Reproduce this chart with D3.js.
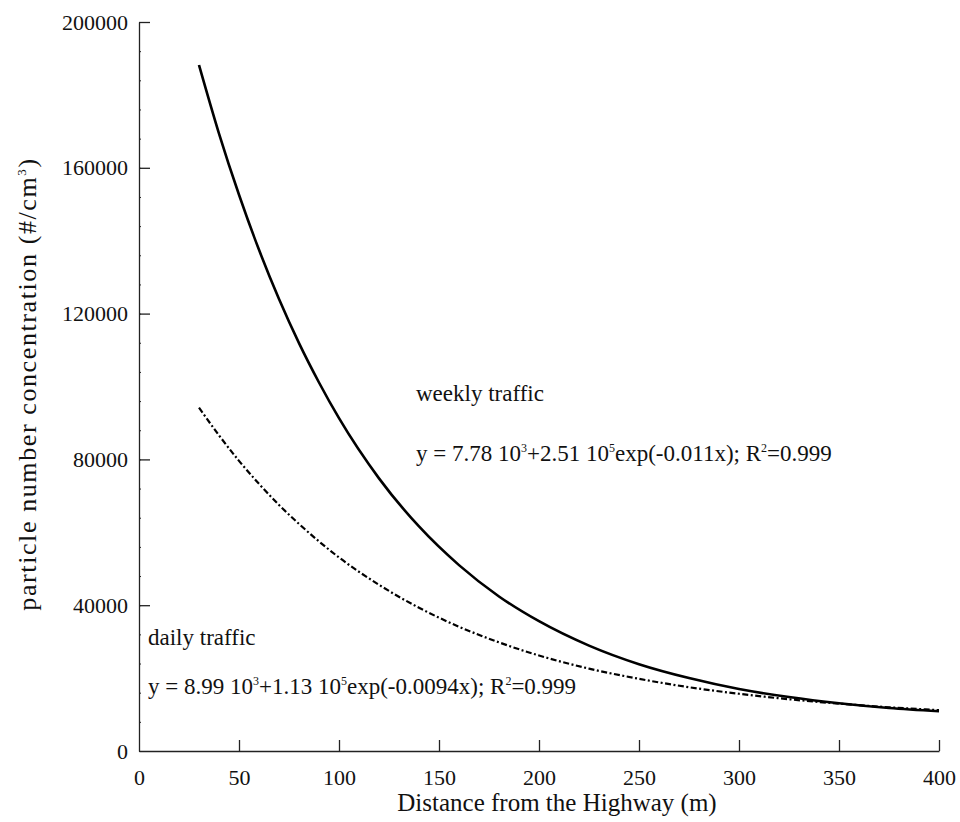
<!DOCTYPE html>
<html>
<head>
<meta charset="utf-8">
<script src="https://cdn.jsdelivr.net/npm/d3@7"></script>
<style>
  body { margin: 0; background: #fff; }
  text { font-family: "Liberation Serif", "DejaVu Serif", serif; fill: #111; }
</style>
</head>
<body>
<svg id="chart" width="960" height="822"></svg>
<script>
// distances (m)
const distance = [30, 40, 50, 60, 70, 80, 90, 100, 120, 140, 160, 180, 200, 225, 250, 275, 300, 325, 350, 375, 400];
// weekly traffic curve (#/cm3)
const weekly = [188200, 169400, 152600, 137500, 124000, 111900, 101100, 91300, 74800, 61600, 51000, 42400, 35600, 28900, 23800, 20000, 17000, 14800, 13100, 11800, 10900];
// daily traffic curve (#/cm3)
const daily = [94200, 86600, 79600, 73300, 67500, 62300, 57500, 53100, 45600, 39300, 34100, 29800, 26200, 22600, 19800, 17500, 15700, 14200, 13000, 12000, 11200];

const xTicks = [0, 50, 100, 150, 200, 250, 300, 350, 400];
const yTicks = [0, 40000, 80000, 120000, 160000, 200000];
const yMinorTicks = d3.range(0, 200001, 8000);

const svg = d3.select("#chart");
const margin = {top: 22, right: 21, bottom: 71, left: 139};
const width = +svg.attr("width") - margin.left - margin.right;
const height = +svg.attr("height") - margin.top - margin.bottom;

const g = svg.append("g").attr("transform", `translate(${margin.left},${margin.top})`);

const x = d3.scaleLinear().domain([0, 400]).range([0, width]);
const y = d3.scaleLinear().domain([0, 200000]).range([height, 0]);

// x axis, ticks pointing inward
const xAxis = g.append("g")
    .attr("transform", `translate(0,${height})`)
    .call(d3.axisBottom(x).tickValues(xTicks).tickSizeInner(-11).tickSizeOuter(0).tickPadding(18));
xAxis.select(".domain").attr("stroke", "#222").attr("stroke-width", 1.3);
xAxis.selectAll(".tick line").attr("stroke", "#222").attr("stroke-width", 1.3);
xAxis.selectAll(".tick").filter(d => d === 0).select("line").remove();
xAxis.selectAll(".tick text").style("font-size", "22px").attr("fill", "#111");

// y axis minor ticks
g.append("g")
    .call(d3.axisLeft(y).tickValues(yMinorTicks).tickSizeInner(-2).tickSizeOuter(0).tickFormat(""))
    .call(a => a.select(".domain").remove())
    .selectAll(".tick line").attr("stroke", "#222");

// y axis major
const yAxis = g.append("g")
    .call(d3.axisLeft(y).tickValues(yTicks).tickSizeInner(-11).tickSizeOuter(0).tickPadding(11).tickFormat(d3.format("d")));
yAxis.select(".domain").attr("stroke", "#222").attr("stroke-width", 1.3);
yAxis.selectAll(".tick line").attr("stroke", "#222").attr("stroke-width", 1.3);
yAxis.selectAll(".tick").filter(d => d === 0).select("line").remove();
yAxis.selectAll(".tick text").style("font-size", "22px").attr("fill", "#111");

// curves
const line = d3.line()
    .x((d, i) => x(distance[i]))
    .y(d => y(d))
    .curve(d3.curveMonotoneX);

g.append("path")
    .datum(weekly)
    .attr("fill", "none")
    .attr("stroke", "#000")
    .attr("stroke-width", 2.6)
    .attr("d", line);

g.append("path")
    .datum(daily)
    .attr("fill", "none")
    .attr("stroke", "#000")
    .attr("stroke-width", 2.2)
    .attr("stroke-dasharray", "6,2.5,2,2.5")
    .attr("d", line);

// axis titles
svg.append("text")
    .attr("x", 557)
    .attr("y", 811)
    .attr("text-anchor", "middle")
    .style("font-size", "25px")
    .text("Distance from the Highway (m)");

const yTitle = svg.append("text")
    .attr("transform", "translate(36,384) rotate(-90)")
    .attr("text-anchor", "middle")
    .style("font-size", "26px")
    .style("letter-spacing", "1.6px");
yTitle.append("tspan").text("particle number concentration (#/cm");
yTitle.append("tspan").attr("dy", -10).style("font-size", "13px").text("3");
yTitle.append("tspan").attr("dy", 10).text(")");

// annotations with small raised exponents
function equation(xp, yp, parts) {
    const t = svg.append("text").attr("x", xp).attr("y", yp).style("font-size", "23px");
    let back = 0;
    parts.forEach(p => {
        if (p.sup) {
            t.append("tspan").attr("dy", -9).style("font-size", "12px").text(p.sup);
            back = 9;
        } else {
            t.append("tspan").attr("dy", back).text(p.t);
            back = 0;
        }
    });
}

svg.append("text").attr("x", 416).attr("y", 401).style("font-size", "23px").text("weekly traffic");
equation(416, 461, [
    {t: "y = 7.78 10"}, {sup: "3"}, {t: "+2.51 10"}, {sup: "5"},
    {t: "exp(-0.011x); R"}, {sup: "2"}, {t: "=0.999"}
]);

svg.append("text").attr("x", 148).attr("y", 645).style("font-size", "23px").text("daily traffic");
equation(148, 694, [
    {t: "y = 8.99 10"}, {sup: "3"}, {t: "+1.13 10"}, {sup: "5"},
    {t: "exp(-0.0094x); R"}, {sup: "2"}, {t: "=0.999"}
]);
</script>
</body>
</html>
